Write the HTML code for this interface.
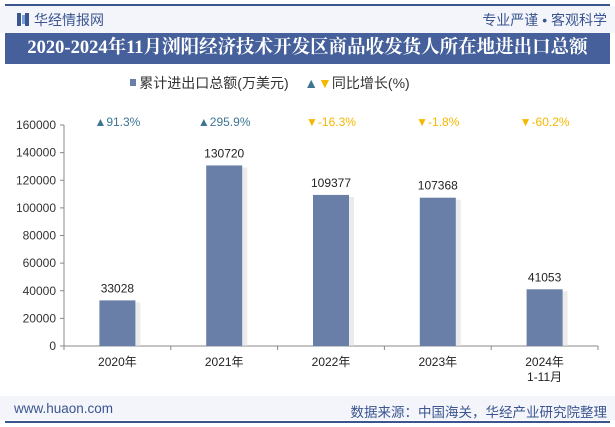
<!DOCTYPE html>
<html><head><meta charset="utf-8"><style>
body{margin:0;background:#fff;font-family:"Liberation Sans","Noto Sans CJK SC",sans-serif;}
#wrap{position:relative;width:615px;height:427px;overflow:hidden;background:#fff;}
.abs{position:absolute;}
</style></head><body>
<div id="wrap">
<div class="abs" style="left:5px;top:4px;width:605px;height:2px;background:#3b5590"></div>
<div class="abs" style="left:0;top:6px;width:615px;height:27px;background:#f3f5fa"></div>
<div class="abs" style="left:17px;top:13px;width:4px;height:13px;background:#3b5590"></div>
<div class="abs" style="left:22px;top:15px;width:3px;height:9px;background:#7da0d4"></div>
<div class="abs" style="left:25px;top:13px;width:4px;height:13px;background:#3b5590"></div>
<div class="abs" style="left:34px;top:10px;font-size:14px;color:#3b5590">华经情报网</div>
<div class="abs" style="right:8px;top:10px;font-size:14px;color:#3b5590">专业严谨 • 客观科学</div>
<div class="abs" style="left:5px;top:33px;width:605px;height:31px;background:#45609a;color:#fff;font-family:'Liberation Serif','Noto Serif CJK SC',serif;font-weight:bold;font-size:18.5px;line-height:31px;text-align:center;white-space:nowrap">2020-2024年11月浏阳经济技术开发区商品收发货人所在地进出口总额</div>
<div class="abs" style="left:0;top:73px;width:540px;text-align:center;font-size:14px;color:#333"><span><span style="display:inline-block;width:6px;height:7px;background:#6a7fa8;margin-right:3px;vertical-align:2px"></span>累计进出口总额(万美元)</span>&nbsp;&nbsp;&nbsp;&nbsp;<span><span style="color:#3d7593">▲</span><span style="color:#f5b800">▼</span>同比增长(%)</span></div>
<svg id="plot" class="abs" style="left:0;top:0" width="615" height="427"></svg>
<div class="abs" style="left:0;top:396px;width:615px;height:24px;background:#f3f5fa"></div>
<div class="abs" style="left:14px;top:401px;font-size:13.5px;color:#3b5590">www.huaon.com</div>
<div class="abs" style="right:8px;top:401px;font-size:13.5px;color:#3b5590">数据来源：中国海关，华经产业研究院整理</div>
<div class="abs" style="left:5px;top:421px;width:605px;height:2px;background:#3b5590"></div>
</div>
<script>
const categories=["2020年","2021年","2022年","2023年","2024年\n1-11月"];
const totals=[33028,130720,109377,107368,41053];
const growth=[91.3,295.9,-16.3,-1.8,-60.2];
const yTicks=[0,20000,40000,60000,80000,100000,120000,140000,160000];
const NS="http://www.w3.org/2000/svg";
const svg=document.getElementById('plot');
const x0=64,x1=598,yZero=346,yTop=125,yMax=160000;
const bw=(x1-x0)/categories.length;
function y(v){return yZero-(v/yMax)*(yZero-yTop);}
function xc(i){return x0+bw*(i+0.5);}
function mk(tag,attrs,txt){const e=document.createElementNS(NS,tag);for(const k in attrs)e.setAttribute(k,attrs[k]);if(txt!==undefined)e.textContent=txt;svg.appendChild(e);return e;}
let ax=mk('line',{x1:x0,y1:yTop,x2:x0,y2:yZero,stroke:'#888'});


yTicks.forEach(v=>{
 mk('line',{x1:x0-4,y1:y(v),x2:x0,y2:y(v),stroke:'#888'});
 let t=mk('text',{x:x0-8,y:y(v)+4,'text-anchor':'end','font-size':12,fill:'#333'},String(v));
 
 
});
let xa=mk('line',{x1:x0,y1:yZero,x2:x1,y2:yZero,stroke:'#888'});


for(let i=0;i<=categories.length;i++)mk('line',{x1:x0+bw*i,y1:yZero,x2:x0+bw*i,y2:yZero+4,stroke:'#888'});
categories.forEach((c,i)=>{
 const cx=xc(i),top=y(totals[i]);
 mk('rect',{x:cx-18+3,y:top+2,width:38,height:yZero-top-2,fill:'#ddd',opacity:0.6});
 let b=mk('rect',{x:cx-18,y:top,width:36,height:yZero-top,fill:'#6a7fa8'});
 
 
 let v=mk('text',{x:cx,y:top-8,'text-anchor':'middle','font-size':12,fill:'#222'},String(totals[i]));
 
 
 c.split('\n').forEach((ln,j)=>{
  let t=mk('text',{x:cx,y:366+j*15,'text-anchor':'middle','font-size':12,fill:'#222','font-family':'Liberation Sans, Noto Sans CJK SC, sans-serif'},ln);
  
  
 });
 const g=growth[i];
 let gt=mk('text',{x:cx,y:126,'text-anchor':'middle','font-size':12,fill:g>=0?'#3d7593':'#f5b800'},(g>=0?'▲':'▼')+g+'%');
 
 
});
</script>
</body></html>
